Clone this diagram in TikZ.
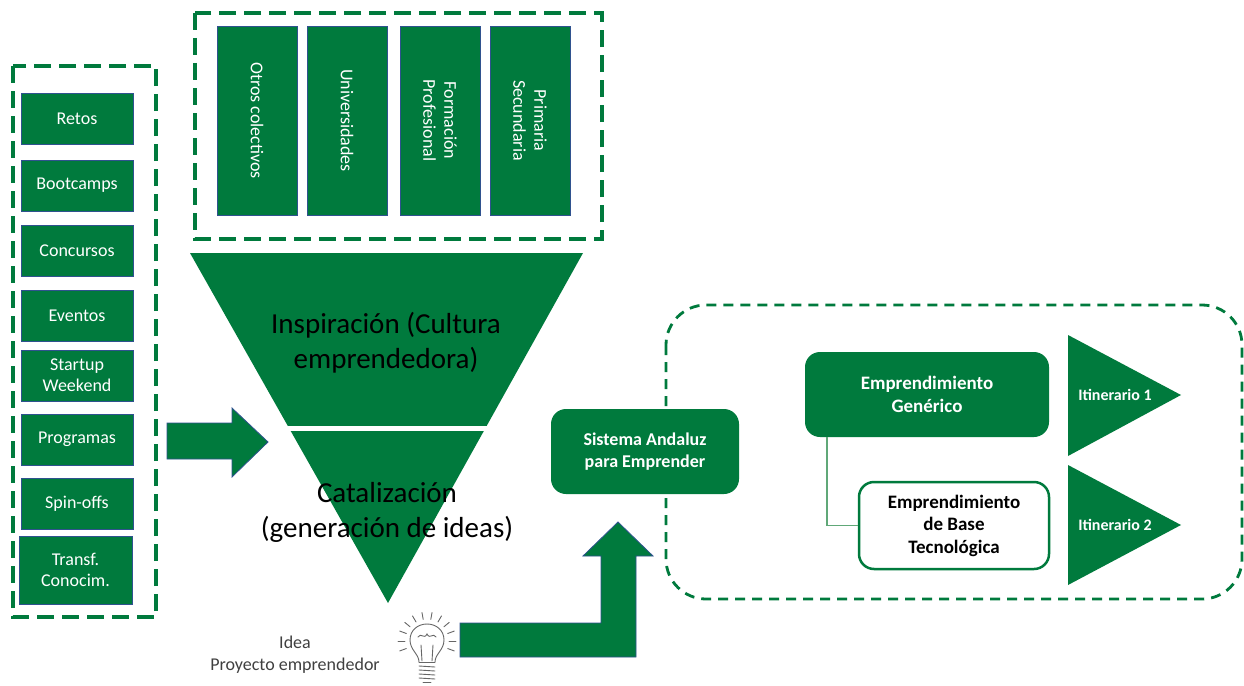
\documentclass[tikz,border=0pt]{standalone}
\usepackage{fontspec}
\setmainfont{Carlito}
\usetikzlibrary{calc}
\definecolor{G}{RGB}{0,122,61}
\definecolor{B}{RGB}{47,82,143}
\definecolor{LG}{RGB}{96,168,120}
\definecolor{GR}{RGB}{64,64,64}
\begin{document}
\begin{tikzpicture}[x=1pt,y=-1pt,
  gbox/.style={fill=G,draw=B,line width=0.8pt,text=white,align=center,inner sep=0pt,
    font=\fontsize{18}{21}\selectfont},
  vbox/.style={gbox,rotate=-90,minimum width=189pt,minimum height=80pt},
  lbox/.style={gbox,minimum width=112pt,minimum height=51pt},
  gdash/.style={draw=G,line width=4pt,dash pattern=on 17pt off 8pt},
  rdash/.style={draw=G,line width=2.8pt,dash pattern=on 10pt off 7pt},
  rbox/.style={rounded corners=15pt,inner sep=0pt,align=center,
    font=\fontsize{19}{22.5}\selectfont\bfseries},
  funtext/.style={align=center,text=black,font=\fontsize{29}{35}\selectfont},
  itin/.style={text=white,font=\fontsize{16}{19}\selectfont\bfseries},
  blockarrow/.style={fill=G,draw=B,line width=0.8pt,line join=miter},
  bulb/.style={draw=GR!80,line width=0.9pt,line cap=round}
]
\useasboundingbox (0,0) rectangle (1244,685);
\fill[white] (0,0) rectangle (1244,685);

% ---- left column ----
\draw[gdash] (13,66) rectangle (156,617);
\node[lbox] (retos) at (77,118.5) {Retos};
\node[lbox] (boot) at (77,185.5) {Bootcamps};
\node[lbox] (conc) at (77,250.5) {Concursos};
\node[lbox] (even) at (77,315.5) {Eventos};
\node[lbox] (start) at (77,375.5) {Startup\\Weekend};
\node[lbox] (prog) at (77,439.5) {Programas};
\node[lbox] (spin) at (77,503.5) {Spin-offs};
\node[lbox,minimum width=113pt,minimum height=68pt] (transf) at (75.5,570) {Transf.\\Conocim.};

% ---- top group ----
\draw[gdash] (195,13) rectangle (602,239);
\node[vbox] (otros) at (257,120.5) {Otros colectivos};
\node[vbox] (univ) at (347,120.5) {Universidades};
\node[vbox] (fp) at (440,120.5) {Formación\\Profesional};
\node[vbox] (prim) at (530,120.5) {Primaria\\Secundaria};

% ---- funnel ----
\fill[G] (190,253) -- (583,253) -- (388,603) -- cycle;
\draw[white,line width=5pt] (280,428.5) -- (495,428.5);
\node[funtext] (insp) at (386,343) {Inspiración (Cultura\\emprendedora)};
\node[funtext] (cata) at (387,512) {Catalización\\(generación de ideas)};

% ---- arrow from left column ----
\draw[blockarrow] (167,423) -- (232,423) -- (232,408) -- (268,442) -- (232,477) -- (232,459) -- (167,459) -- cycle;

% ---- idea ----
\node[align=center,text=GR,font=\fontsize{18}{22}\selectfont] (idea) at (295,655) {Idea\\Proyecto emprendedor};
\coordinate (bc) at (427,641);
\draw[bulb] (419,662) .. controls (419,654) and (410,650) .. (410,640)
  .. controls (410,630) and (418,624) .. (427,624)
  .. controls (436,624) and (444,630) .. (444,640)
  .. controls (444,650) and (435,654) .. (435,662);
\draw[bulb] (419,662) -- (435,662);
\foreach \yy in {666,670,674,678}{\draw[bulb] (419,\yy) -- (435,\yy+1);}
\draw[bulb] (423,682) -- (431,682);
\draw[bulb] (422,661) -- (421,645) (432,661) -- (433,645);
\draw[bulb] (418,637) .. controls (421,632) and (424,640) .. (427,634) .. controls (430,640) and (433,632) .. (436,637);
\foreach \a in {-200,-180,...,20}{\draw[bulb] ($(bc)+(\a:22)$) -- ($(bc)+(\a:29)$);}

% ---- right dashed group ----
\draw[rdash,rounded corners=40pt] (666,305) rectangle (1242,599);

% ---- L arrow ----
\draw[blockarrow] (460,623) -- (601,623) -- (601,556) -- (583,556) -- (618,522) -- (653,556) -- (636,556) -- (636,657) -- (460,657) -- cycle;

% ---- Sistema Andaluz ----
\node[rbox,fill=G,text=white,minimum width=188pt,minimum height=85pt,font=\fontsize{18}{22}\selectfont\bfseries] (sis) at (645,451.5) {Sistema Andaluz\\para Emprender};

% ---- right boxes ----
\node[rbox,fill=G,text=white,minimum width=244pt,minimum height=85pt] (gen) at (927,394.5) {Emprendimiento\\Genérico};
\node[rbox,fill=white,draw=G,line width=2.5pt,text=black,minimum width=190pt,minimum height=87pt] (tec) at (954,525.5) {Emprendimiento\\de Base\\Tecnológica};
\draw[LG,line width=1.5pt] ($(gen.south west)+(22,0)$) |- (tec.west);

% ---- itineraries ----
\fill[G] (1068,335) -- (1181,395) -- (1068,456) -- cycle;
\fill[G] (1068,465) -- (1181,525) -- (1068,585) -- cycle;
\node[itin] (it1) at (1115,395) {Itinerario 1};
\node[itin] (it2) at (1115,525) {Itinerario 2};
\end{tikzpicture}
\end{document}
